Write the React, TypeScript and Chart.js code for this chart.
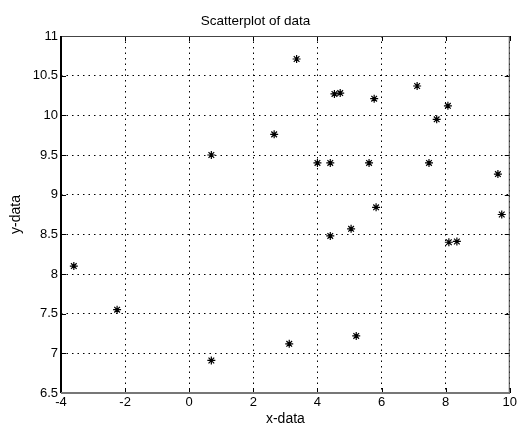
import React, { useEffect, useRef } from "react";
import { Chart, registerables } from "chart.js";

Chart.register(...registerables);

const xValues = [-3.6, -2.25, 0.69, 0.69, 2.65, 3.35, 3.12, 4.0, 4.4, 4.53, 4.71, 4.4, 5.05, 5.21, 5.77, 5.61, 5.83, 7.11, 7.72, 7.48, 8.07, 8.1, 8.35, 9.63, 9.75];
const yValues = [8.1, 7.55, 9.5, 6.91, 9.76, 10.71, 7.12, 9.4, 9.4, 10.27, 10.28, 8.48, 8.57, 7.22, 10.21, 9.4, 8.84, 10.37, 9.95, 9.4, 10.12, 8.4, 8.41, 9.26, 8.75];
const xTicks = [-4, -2, 0, 2, 4, 6, 8, 10];
const yTicks = [6.5, 7, 7.5, 8, 8.5, 9, 9.5, 10, 10.5, 11];
const titleText = "Scatterplot of data";
const xLabel = "x-data";
const yLabel = "y-data";

const FONT = "Arial, 'Liberation Sans', Helvetica, sans-serif";

const framePlugin = {
  id: "frame",
  afterDraw(chart: any) {
    const { ctx, chartArea: a, scales } = chart;
    const xs = scales.x;
    const ys = scales.y;
    ctx.save();
    ctx.setLineDash([]);
    ctx.strokeStyle = "#000";
    ctx.lineWidth = 1;
    const tl = 5;
    ctx.beginPath();
    xTicks.forEach((v) => {
      const px = Math.round(xs.getPixelForValue(v)) + 0.5;
      ctx.moveTo(px, a.top);
      ctx.lineTo(px, a.top + tl);
      ctx.moveTo(px, a.bottom);
      ctx.lineTo(px, a.bottom - tl);
    });
    yTicks.forEach((v) => {
      const py = Math.round(ys.getPixelForValue(v)) + 0.5;
      ctx.moveTo(a.left, py);
      ctx.lineTo(a.left + tl, py);
      ctx.moveTo(a.right, py);
      ctx.lineTo(a.right - tl, py);
    });
    ctx.stroke();
    ctx.strokeStyle = "#444";
    ctx.lineWidth = 1;
    ctx.beginPath();
    ctx.moveTo(a.left, a.top + 0.5);
    ctx.lineTo(a.right, a.top + 0.5);
    ctx.moveTo(a.right - 0.5, a.top);
    ctx.lineTo(a.right - 0.5, a.bottom);
    ctx.stroke();
    ctx.strokeStyle = "#000";
    ctx.lineWidth = 2;
    ctx.beginPath();
    ctx.moveTo(a.left, a.top);
    ctx.lineTo(a.left, a.bottom);
    ctx.stroke();
    ctx.strokeStyle = "#777";
    ctx.lineWidth = 2;
    ctx.beginPath();
    ctx.moveTo(a.left, a.bottom);
    ctx.lineTo(a.right, a.bottom);
    ctx.stroke();
    ctx.restore();
  },
};

export default function App() {
  const ref = useRef<HTMLCanvasElement | null>(null);
  useEffect(() => {
    document.body.style.margin = "0";
    const canvas = ref.current;
    if (!canvas) return;
    const points = xValues.map((x, i) => ({ x, y: yValues[i] }));
    const chart = new Chart(canvas, {
      type: "scatter",
      data: {
        datasets: [
          {
            data: points,
            pointStyle: "star",
            radius: 4,
            borderColor: "#000",
            backgroundColor: "#000",
            borderWidth: 1.2,
          },
        ],
      },
      options: {
        animation: false,
        responsive: false,
        devicePixelRatio: 1,
        layout: { padding: { left: 0, right: 8, top: 0, bottom: 0 } },
        plugins: {
          legend: { display: false },
          tooltip: { enabled: false },
          title: {
            display: true,
            text: titleText,
            color: "#000",
            font: { family: FONT, size: 13.5, weight: "normal", lineHeight: 1.2 },
            padding: { top: 13, bottom: 6.8 },
          },
        },
        scales: {
          x: {
            type: "linear",
            min: -4,
            max: 10,
            afterBuildTicks: (s: any) => {
              s.ticks = xTicks.map((v) => ({ value: v }));
            },
            afterFit: (s: any) => {
              s.height = 33;
            },
            border: { display: false, dash: [1.5, 4] },
            grid: {
              color: "#000",
              lineWidth: 1,
              drawTicks: false,
            },
            ticks: {
              color: "#000",
              padding: 2,
              font: { family: FONT, size: 13 },
              callback: (v: any) => String(v),
            },
            title: {
              display: true,
              text: xLabel,
              color: "#000",
              font: { family: FONT, size: 14 },
              padding: { top: 0, bottom: -2 },
            },
          },
          y: {
            type: "linear",
            min: 6.5,
            max: 11,
            afterBuildTicks: (s: any) => {
              s.ticks = yTicks.map((v) => ({ value: v }));
            },
            afterFit: (s: any) => {
              s.width = 61;
            },
            border: { display: false, dash: [1.5, 4] },
            grid: {
              color: "#000",
              lineWidth: 1,
              drawTicks: false,
            },
            ticks: {
              color: "#000",
              padding: 3,
              font: { family: FONT, size: 13 },
              callback: (v: any) => String(v),
            },
            title: {
              display: true,
              text: yLabel,
              color: "#000",
              font: { family: FONT, size: 14 },
              padding: { top: 8, bottom: 0 },
            },
          },
        },
      },
      plugins: [framePlugin],
    } as any);
    return () => chart.destroy();
  }, []);
  return (
    <div style={{ width: 519, height: 426 }}>
      <canvas ref={ref} width={519} height={426} style={{ display: "block" }} />
    </div>
  );
}
